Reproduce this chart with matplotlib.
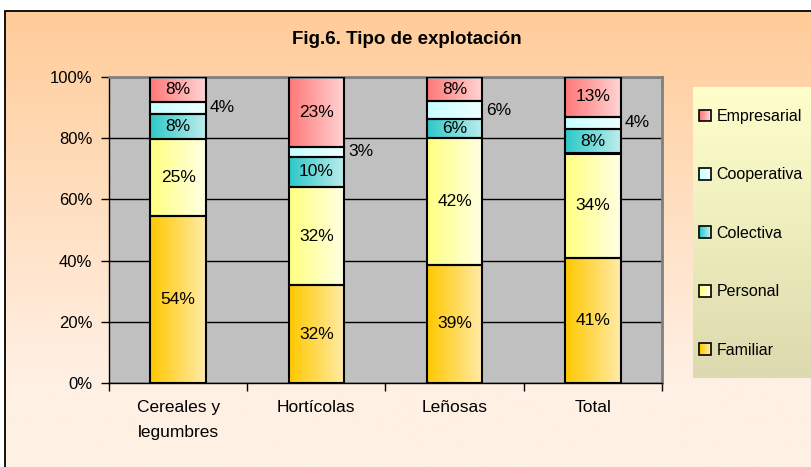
#Stacked 100% bar chart: Fig.6. Tipo de explotacion

import numpy as np
import matplotlib
matplotlib.use('Agg')
import matplotlib.pyplot as plt
from matplotlib.patches import Rectangle
from matplotlib.colors import to_rgb
from matplotlib.legend_handler import HandlerBase


#Data
categories = ['Cereales y\nlegumbres', 'Hortícolas', 'Leñosas', 'Total']
series_names = ['Familiar', 'Personal', 'Colectiva', 'Cooperativa', 'Empresarial']
familiar = [54, 32, 39, 41]
personal = [25, 32, 42, 34]
colectiva = [8, 10, 6, 8]
cooperativa = [4, 3, 6, 4]
empresarial = [8, 23, 8, 13]
y_ticks = [0, 20, 40, 60, 80, 100]
y_tick_labels = ['0%', '20%', '40%', '60%', '80%', '100%']

#Gradient colours (left, right) for each series
grad_colors = {
    'Familiar': ('#FFC800', '#FFEBA8'),
    'Personal': ('#FFFF80', '#FFFFE4'),
    'Colectiva': ('#2EC8C8', '#BDEDED'),
    'Cooperativa': ('#C8FFFF', '#EEFFFF'),
    'Empresarial': ('#FF7878', '#FFD4D4'),
}

W, H = 812, 467
plt.rcParams['font.family'] = ['Liberation Sans', 'DejaVu Sans']


#Pixel box -> figure fraction
def px(x, y, w, h):
    return [x / W, 1 - (y + h) / H, w / W, h / H]


#Make a gradient image
def gradient(c0, c1, n=64, horizontal=True):
    a = np.array(to_rgb(c0))
    b = np.array(to_rgb(c1))
    t = np.linspace(0, 1, n)
    g = a[None, :] * (1 - t[:, None]) + b[None, :] * t[:, None]
    if horizontal:
        return g[None, :, :]
    return g[:, None, :]


#Legend handle with a gradient square
class GradientHandler(HandlerBase):
    def __init__(self, c0, c1):
        super().__init__()
        self.c0 = c0
        self.c1 = c1

    def create_artists(self, legend, orig_handle, xdescent, ydescent,
                       width, height, fontsize, trans):
        artists = []
        n = 6
        side = min(width, height)
        x0 = -xdescent
        y0 = -ydescent + (height - side) / 2
        a = np.array(to_rgb(self.c0))
        b = np.array(to_rgb(self.c1))
        for i in range(n):
            t = i / (n - 1)
            col = a * (1 - t) + b * t
            artists.append(Rectangle((x0 + i * side / n, y0), side / n, side,
                                     facecolor=col, edgecolor='none', transform=trans))
        artists.append(Rectangle((x0, y0), side, side, facecolor='none',
                                 edgecolor='black', lw=1.2, transform=trans))
        return artists


#Main
def main():

    fig = plt.figure(figsize=(W / 100, H / 100), dpi=100)

    #Background gradient and frame
    bg = fig.add_axes(px(5, 11, W - 5, H - 11), zorder=-10)
    bg_img = gradient('#FFCC99', '#FFF0E4', n=128, horizontal=False)
    bg_img = np.concatenate([bg_img, np.repeat(bg_img[-1:], 30, axis=0)])
    bg.imshow(bg_img, aspect='auto', extent=[0, 1, 0, 1])
    bg.axis('off')
    fig.patches.append(Rectangle((5 / W, -0.1), 1.1, 1 - 11 / H + 0.1,
                                 transform=fig.transFigure, facecolor='none',
                                 edgecolor='black', lw=1.3, clip_on=False, zorder=-5))

    #Title
    fig.text(407 / W, 1 - 40 / H, 'Fig.6. Tipo de explotación', ha='center', va='center',
             fontsize=13.5, fontweight='bold')

    #Plot area
    ax = fig.add_axes(px(109, 77, 553, 306))
    ax.set_facecolor('#C0C0C0')
    x = np.arange(len(categories))
    values = np.array([familiar, personal, colectiva, cooperativa, empresarial], dtype=float)
    shares = values / values.sum(axis=0) * 100

    bottom = np.zeros(len(categories))
    for name, raw, share in zip(series_names, values, shares):
        bars = ax.bar(x, share, 0.4, bottom=bottom, facecolor='none',
                      edgecolor='black', lw=1.5, zorder=3)
        c0, c1 = grad_colors[name]
        for patch, v in zip(bars.patches, raw):
            x0, y0 = patch.get_x(), patch.get_y()
            w, h = patch.get_width(), patch.get_height()
            ax.imshow(gradient(c0, c1), extent=[x0, x0 + w, y0, y0 + h],
                      aspect='auto', zorder=2, interpolation='bilinear')
            if name == 'Cooperativa':
                ax.annotate(f'{int(v)}%', (x0 + w, y0 + h / 2), xytext=(3, 0),
                            textcoords='offset points', ha='left', va='center',
                            fontsize=12.5, zorder=4)
            else:
                ax.text(x0 + w / 2, y0 + h / 2, f'{int(v)}%', ha='center',
                        va='center', fontsize=12.5, zorder=4)
        bottom += share

    #Axes
    ax.set_xlim(-0.5, len(categories) - 0.5)
    ax.set_ylim(0, 100)
    ax.set_yticks(y_ticks)
    ax.set_yticklabels(y_tick_labels, fontsize=12)
    ax.set_xticks(x)
    ax.set_xticklabels(categories, fontsize=12.5, linespacing=1.85)
    ax.set_xticks(np.arange(len(categories) + 1) - 0.5, minor=True)
    ax.tick_params(axis='x', which='major', length=0, pad=12)
    ax.tick_params(axis='x', which='minor', length=6, width=1, direction='out')
    ax.tick_params(axis='y', length=6, width=1, direction='out', pad=6)
    ax.yaxis.grid(True, color='black', lw=1)
    ax.set_axisbelow(True)
    for side in ['top', 'right']:
        ax.spines[side].set_color('#808080')
        ax.spines[side].set_linewidth(2)
    for side in ['left', 'bottom']:
        ax.spines[side].set_color('black')
        ax.spines[side].set_linewidth(1)

    #Legend background
    lg = fig.add_axes(px(693, 87, 130, 291), zorder=1)
    lg.imshow(gradient('#FFFFCC', '#DCDAAE', n=128, horizontal=False),
              aspect='auto', extent=[0, 1, 0, 1])
    lg.axis('off')

    #Legend
    handles = []
    handler_map = {}
    for name in reversed(series_names):
        hnd = Rectangle((0, 0), 1, 1)
        handles.append(hnd)
        handler_map[hnd] = GradientHandler(*grad_colors[name])
    leg = fig.legend(handles, list(reversed(series_names)), handler_map=handler_map,
                     loc='upper left', bbox_to_anchor=(699 / W, 1 - 109 / H),
                     frameon=False, fontsize=11.5, handlelength=0.75, handleheight=0.75,
                     handletextpad=0.35, labelspacing=2.72, borderpad=0, borderaxespad=0)
    leg.set_zorder(5)

    fig.savefig('out.png', dpi=100)


#Main call
if __name__ == "__main__":
    main()
